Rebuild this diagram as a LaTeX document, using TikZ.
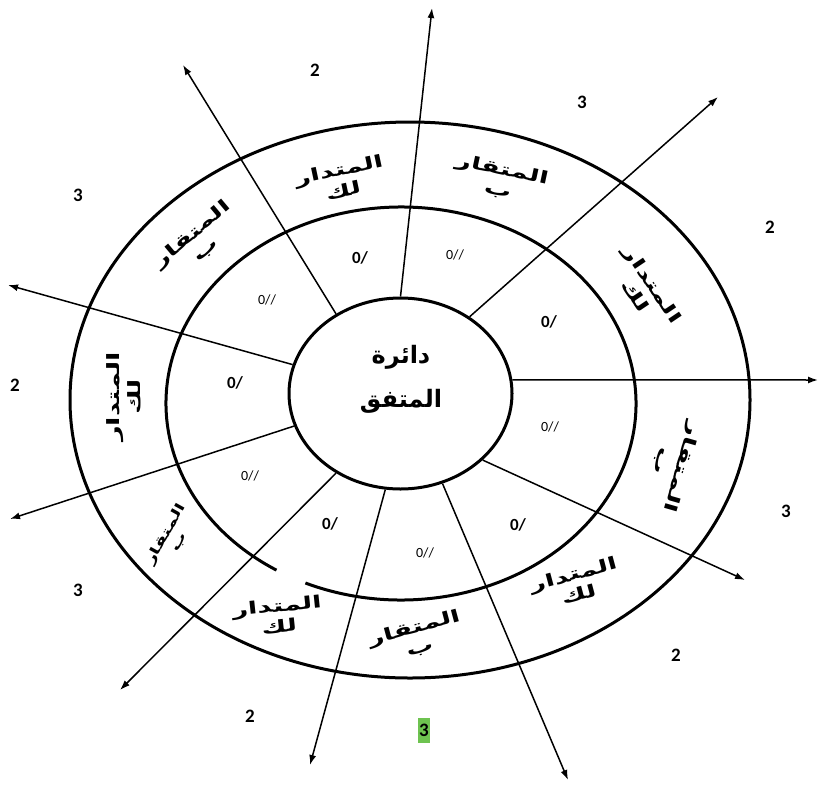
\documentclass[tikz,border=0pt]{standalone}
\usepackage{fontspec}
\setmainfont{Carlito}
\newfontfamily\arabicfont[Script=Arabic]{DejaVu Sans}
\TeXXeTstate=1
\usetikzlibrary{shapes.geometric,arrows.meta}
\definecolor{hlgreen}{RGB}{110,195,80}
\newcommand{\artwo}[2]{\beginR #1\endR\\\beginR #2\endR}
\begin{document}
\begin{tikzpicture}[x=1pt,y=-1pt,
 ring/.style={line width=3pt},
 ray/.style={line width=1.5pt,-{Latex[length=10pt,width=7pt]}},
 ar/.style={font=\arabicfont\bfseries\fontsize{17}{21}\selectfont,align=center,inner sep=0pt,xscale=1.6},
 arsmall/.style={font=\arabicfont\bfseries\fontsize{13}{15}\selectfont,align=center,inner sep=0pt,xscale=1.5},
 ctr/.style={font=\arabicfont\bfseries\fontsize{24}{44}\selectfont,align=center,inner sep=0pt},
 num/.style={font=\bfseries\fontsize{19}{20}\selectfont,inner sep=0pt},
 lo/.style={font=\bfseries\fontsize{17}{18}\selectfont,inner sep=0pt},
 lt/.style={font=\fontsize{14}{15}\selectfont,inner sep=0pt}]
\useasboundingbox (0,0) rectangle (821,785);
% rings
\draw[ring] (410,400) ellipse [x radius=340, y radius=278];
\draw[ring] (401,403.5) ++(122:235 and 196.5) arc[start angle=122, end angle=474, x radius=235, y radius=196.5];
\node[draw, ellipse, ring, minimum width=223pt, minimum height=191pt, inner sep=0pt] (c) at (400.5,393.5) {};
\node[ctr] (ct) at (401,379) {\artwo{دائرة}{المتفق}};
% arrow ends
\coordinate (e1) at (432,8);
\coordinate (e2) at (183,65);
\coordinate (e3) at (718,97);
\coordinate (e4) at (8,285);
\coordinate (e5) at (818,380);
\coordinate (e6) at (10,519);
\coordinate (e7) at (745,580);
\coordinate (e8) at (120,690);
\coordinate (e9) at (310,765);
\coordinate (e10) at (568,780);
\draw[ray] (c.90) -- (e1);
\draw[ray] (c.129) -- (e2);
\draw[ray] (c.48) -- (e3);
\draw[ray] (c.165) -- (e4);
\draw[ray] (c.7) -- (e5);
\draw[ray] (c.197) -- (e6);
\draw[ray] (c.321) -- (e7);
\draw[ray] (c.231) -- (e8);
\draw[ray] (c.261) -- (e9);
\draw[ray] (c.295) -- (e10);
% middle ring labels
\node[lo] (m1) at (360,258) {0/};
\node[lt] (m2) at (455,255) {0//};
\node[lo] (m3) at (549,322) {0/};
\node[lt] (m4) at (550,427) {0//};
\node[lo] (m5) at (518,525) {0/};
\node[lt] (m6) at (425,553) {0//};
\node[lo] (m7) at (330,524) {0/};
\node[lt] (m8) at (250,476) {0//};
\node[lo] (m9) at (235,383) {0/};
\node[lt] (m10) at (267,300) {0//};
% outer ring labels
\node[rotate=12, ar] (o1) at (341,180) {\artwo{المتدار}{لك}};
\node[rotate=-12, ar] (o2) at (500,180) {\artwo{المتقار}{ب}};
\node[rotate=40, ar] (o3) at (199,242) {\artwo{المتقار}{ب}};
\node[rotate=-56, ar] (o4) at (644,290) {\artwo{المتدار}{لك}};
\node[rotate=-106, ar] (o5) at (672,464) {\artwo{المتقار}{ب}};
\node[rotate=15, ar] (o6) at (576,584) {\artwo{المتدار}{لك}};
\node[rotate=15, ar] (o7) at (417,638) {\artwo{المتقار}{ب}};
\node[rotate=6, ar] (o8) at (278,616) {\artwo{المتدار}{لك}};
\node[rotate=61, arsmall] (o9) at (172,538) {\artwo{المتقار}{ب}};
\node[rotate=90, ar] (o10) at (124,397) {\artwo{المتدار}{لك}};
% outside numbers
\node[num] (n1) at (315,70) {2};
\node[num] (n2) at (582,102) {3};
\node[num] (n3) at (78,195) {3};
\node[num] (n4) at (770,227) {2};
\node[num] (n5) at (15,385) {2};
\node[num] (n6) at (786,511) {3};
\node[num] (n7) at (78,590) {3};
\node[num] (n8) at (676,655) {2};
\node[num] (n9) at (250,716) {2};
\node[num, fill=hlgreen, minimum width=12pt, minimum height=25pt] (n10) at (424,730) {3};
\end{tikzpicture}
\end{document}
